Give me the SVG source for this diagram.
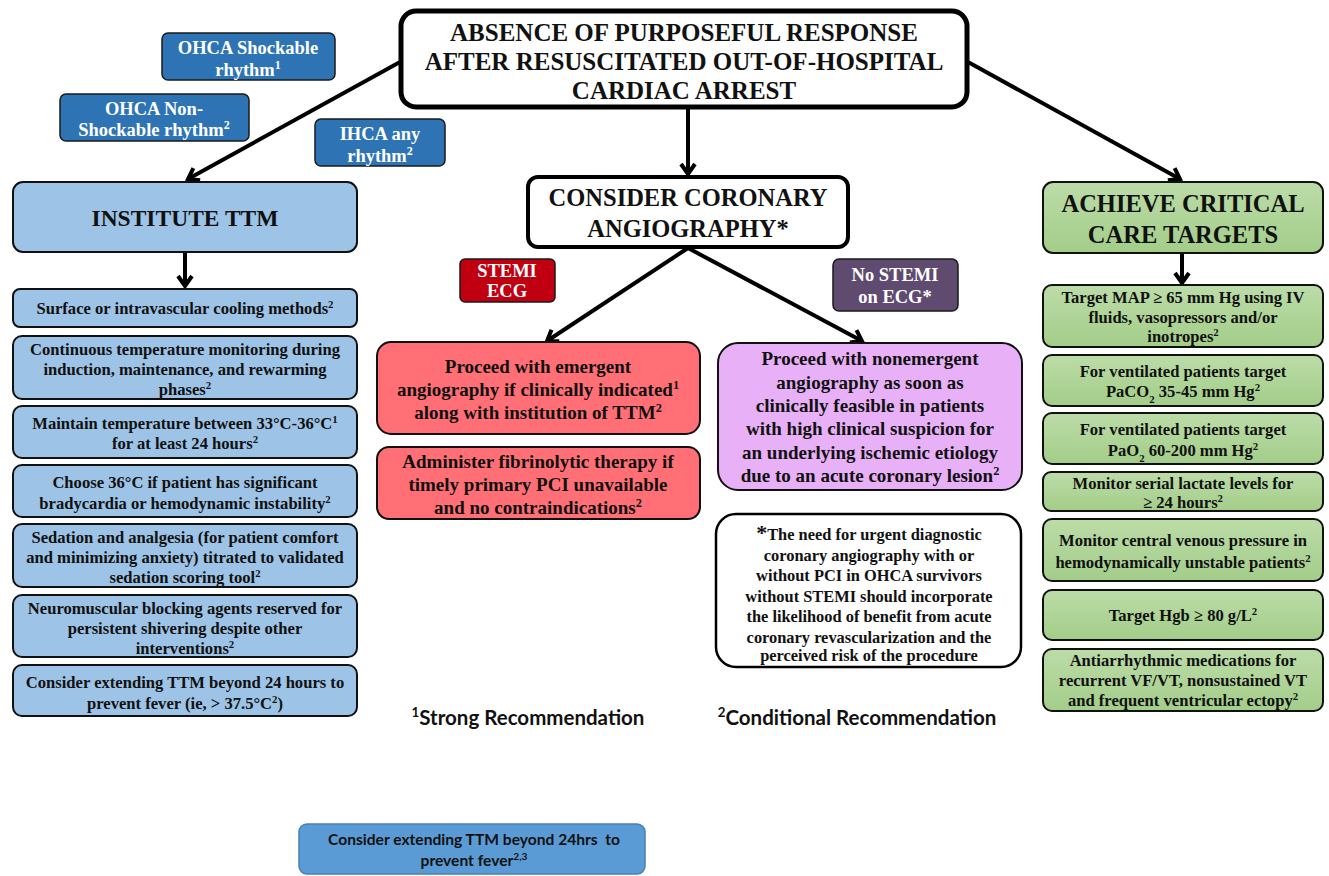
<svg xmlns="http://www.w3.org/2000/svg" width="1329" height="876" viewBox="0 0 1329 876">
<defs>
<style>
text{font-family:"Liberation Serif","Times New Roman",serif;font-weight:bold;text-anchor:middle;fill:#111}
.sup{font-size:65%;baseline-shift:super}
.sub{font-size:65%;baseline-shift:sub}
.lbl{fill:#2e74b5;stroke:#1a1a1a;stroke-width:1.5}
.lt{fill:#fff;font-size:18.5px}
.blue{fill:#9dc3e6;stroke:#111;stroke-width:2}
.green{fill:url(#gg);stroke:#111;stroke-width:2}
.red{fill:#ff6f75;stroke:#111;stroke-width:2}
.bt{font-size:16.6px}
.gt{font-size:16.6px}
.rt{font-size:19px}
.ft{font-size:16.4px}
.conn{stroke:#000;stroke-width:4;fill:none}
.sans{font-family:Lato,"Liberation Sans",sans-serif;white-space:pre}
</style>
<linearGradient id="gg" x1="0" y1="0" x2="0" y2="1">
<stop offset="0" stop-color="#bcdca8"/>
<stop offset="1" stop-color="#a3cd89"/>
</linearGradient>
<marker id="ah" markerUnits="userSpaceOnUse" markerWidth="24" markerHeight="24" refX="12" refY="8" viewBox="0 0 24 16" orient="auto">
<path d="M2,1 L12,8 L2,15" fill="none" stroke="#000" stroke-width="4"/>
</marker>
</defs>

<g id="connectors">
<line class="conn" x1="400" y1="62" x2="188" y2="179" marker-end="url(#ah)"/>
<line class="conn" x1="688" y1="108" x2="688" y2="174" marker-end="url(#ah)"/>
<line class="conn" x1="968" y1="62" x2="1180" y2="179" marker-end="url(#ah)"/>
<line class="conn" x1="185" y1="252" x2="185" y2="286" marker-end="url(#ah)"/>
<line class="conn" x1="1182" y1="253" x2="1182" y2="283" marker-end="url(#ah)"/>
<line class="conn" x1="688" y1="248" x2="547" y2="341" marker-end="url(#ah)"/>
<line class="conn" x1="688" y1="248" x2="862" y2="341" marker-end="url(#ah)"/>
</g>

<g id="title">
<rect x="401" y="11" width="566" height="96" rx="15" fill="#fff" stroke="#000" stroke-width="5"/>
<text x="684" y="41" font-size="25">ABSENCE OF PURPOSEFUL RESPONSE</text>
<text x="684" y="70" font-size="25">AFTER RESUSCITATED OUT-OF-HOSPITAL</text>
<text x="684" y="99" font-size="25">CARDIAC ARREST</text>
</g>

<g id="lbl-ohca-shock">
<rect class="lbl" x="162" y="33" width="173" height="47" rx="6"/>
<text class="lt" x="248" y="54">OHCA Shockable</text>
<text class="lt" x="248" y="76">rhythm<tspan class="sup">1</tspan></text>
</g>
<g id="lbl-ohca-nonshock">
<rect class="lbl" x="60" y="94" width="189" height="47" rx="6"/>
<text class="lt" x="154" y="115">OHCA Non-</text>
<text class="lt" x="154" y="136">Shockable rhythm<tspan class="sup">2</tspan></text>
</g>
<g id="lbl-ihca">
<rect class="lbl" x="315" y="119" width="130" height="47" rx="6"/>
<text class="lt" x="380" y="140">IHCA any</text>
<text class="lt" x="380" y="162">rhythm<tspan class="sup">2</tspan></text>
</g>

<g id="institute-ttm">
<rect class="blue" x="13" y="182" width="344" height="70" rx="10"/>
<text x="185" y="226" font-size="23.5">INSTITUTE TTM</text>
</g>

<g id="ttm1">
<rect class="blue" x="13" y="289" width="344" height="38" rx="7"/>
<text class="bt" x="185" y="314">Surface or intravascular cooling methods<tspan class="sup">2</tspan></text>
</g>
<g id="ttm2">
<rect class="blue" x="13" y="336" width="344" height="63" rx="9"/>
<text class="bt" x="185" y="355">Continuous temperature monitoring during</text>
<text class="bt" x="185" y="375">induction, maintenance, and rewarming</text>
<text class="bt" x="185" y="395">phases<tspan class="sup">2</tspan></text>
</g>
<g id="ttm3">
<rect class="blue" x="13" y="406" width="344" height="52" rx="9"/>
<text class="bt" x="185" y="429">Maintain temperature between 33°C-36°C<tspan class="sup">1</tspan></text>
<text class="bt" x="185" y="449">for at least 24 hours<tspan class="sup">2</tspan></text>
</g>
<g id="ttm4">
<rect class="blue" x="13" y="465" width="344" height="52" rx="9"/>
<text class="bt" x="185" y="488">Choose 36°C if patient has significant</text>
<text class="bt" x="185" y="509">bradycardia or hemodynamic instability<tspan class="sup">2</tspan></text>
</g>
<g id="ttm5">
<rect class="blue" x="13" y="524" width="344" height="63" rx="9"/>
<text class="bt" x="185" y="543">Sedation and analgesia (for patient comfort</text>
<text class="bt" x="185" y="563">and minimizing anxiety) titrated to validated</text>
<text class="bt" x="185" y="583">sedation scoring tool<tspan class="sup">2</tspan></text>
</g>
<g id="ttm6">
<rect class="blue" x="13" y="595" width="344" height="62" rx="9"/>
<text class="bt" x="185" y="614">Neuromuscular blocking agents reserved for</text>
<text class="bt" x="185" y="634">persistent shivering despite other</text>
<text class="bt" x="185" y="654">interventions<tspan class="sup">2</tspan></text>
</g>
<g id="ttm7">
<rect class="blue" x="13" y="665" width="344" height="51" rx="9"/>
<text class="bt" x="185" y="688">Consider extending TTM beyond 24 hours to</text>
<text class="bt" x="185" y="709">prevent fever (ie, &gt; 37.5°C<tspan class="sup">2</tspan>)</text>
</g>

<g id="consider-angio">
<rect x="528" y="177" width="320" height="70" rx="10" fill="#fff" stroke="#000" stroke-width="4"/>
<text x="688" y="206" font-size="24.5">CONSIDER CORONARY</text>
<text x="688" y="237" font-size="24.5">ANGIOGRAPHY*</text>
</g>

<g id="lbl-stemi">
<rect x="460" y="259" width="95" height="43" rx="5" fill="#c00010" stroke="#1a1a1a" stroke-width="1.5"/>
<text class="lt" x="507" y="277" font-size="17">STEMI</text>
<text class="lt" x="507" y="297" font-size="17">ECG</text>
</g>
<g id="lbl-nostemi">
<rect x="833" y="259" width="125" height="52" rx="6" fill="#5f4a70" stroke="#1a1a1a" stroke-width="1.5"/>
<text class="lt" x="895" y="281" font-size="17.5">No STEMI</text>
<text class="lt" x="895" y="303" font-size="17.5">on ECG*</text>
</g>

<g id="emergent">
<rect class="red" x="377" y="342" width="323" height="92" rx="14"/>
<text class="rt" x="538" y="373">Proceed with emergent</text>
<text class="rt" x="538" y="396">angiography if clinically indicated<tspan class="sup">1</tspan></text>
<text class="rt" x="538" y="419">along with institution of TTM<tspan class="sup">2</tspan></text>
</g>
<g id="fibrinolytic">
<rect class="red" x="377" y="447" width="323" height="72" rx="12"/>
<text class="rt" x="538" y="468">Administer fibrinolytic therapy if</text>
<text class="rt" x="538" y="491">timely primary PCI unavailable</text>
<text class="rt" x="538" y="514">and no contraindications<tspan class="sup">2</tspan></text>
</g>

<g id="nonemergent">
<rect x="718" y="343" width="304" height="147" rx="20" fill="#e8b0f7" stroke="#111" stroke-width="2"/>
<text class="rt" x="870" y="365">Proceed with nonemergent</text>
<text class="rt" x="870" y="389">angiography as soon as</text>
<text class="rt" x="870" y="412">clinically feasible in patients</text>
<text class="rt" x="870" y="435">with high clinical suspicion for</text>
<text class="rt" x="870" y="459">an underlying ischemic etiology</text>
<text class="rt" x="870" y="482">due to an acute coronary lesion<tspan class="sup">2</tspan></text>
</g>

<g id="footnote">
<rect x="716" y="514" width="305" height="153" rx="20" fill="#fff" stroke="#000" stroke-width="2.5"/>
<text class="ft" x="869" y="540"><tspan font-size="22">*</tspan>The need for urgent diagnostic</text>
<text class="ft" x="869" y="560.5">coronary angiography with or</text>
<text class="ft" x="869" y="581">without PCI in OHCA survivors</text>
<text class="ft" x="869" y="601.5">without STEMI should incorporate</text>
<text class="ft" x="869" y="622">the likelihood of benefit from acute</text>
<text class="ft" x="869" y="642.5">coronary revascularization and the</text>
<text class="ft" x="869" y="661">perceived risk of the procedure</text>
</g>

<g id="legend">
<text class="sans" x="528" y="725" font-size="20.5"><tspan class="sup">1</tspan>Strong Recommendation</text>
<text class="sans" x="857" y="725" font-size="20.5"><tspan class="sup">2</tspan>Conditional Recommendation</text>
</g>

<g id="critical-care">
<rect class="green" x="1043" y="182" width="280" height="71" rx="10"/>
<text x="1183" y="212" font-size="24.5">ACHIEVE CRITICAL</text>
<text x="1183" y="243" font-size="24.5">CARE TARGETS</text>
</g>

<g id="cc1">
<rect class="green" x="1043" y="285" width="280" height="62" rx="9"/>
<text class="gt" x="1183" y="303">Target MAP ≥ 65 mm Hg using IV</text>
<text class="gt" x="1183" y="323">fluids, vasopressors and/or</text>
<text class="gt" x="1183" y="342">inotropes<tspan class="sup">2</tspan></text>
</g>
<g id="cc2">
<rect class="green" x="1043" y="355" width="280" height="51" rx="9"/>
<text class="gt" x="1183" y="377">For ventilated patients target</text>
<text class="gt" x="1183" y="397">PaCO<tspan class="sub">2</tspan> 35-45 mm Hg<tspan class="sup">2</tspan></text>
</g>
<g id="cc3">
<rect class="green" x="1043" y="413" width="280" height="51" rx="9"/>
<text class="gt" x="1183" y="435">For ventilated patients target</text>
<text class="gt" x="1183" y="456">PaO<tspan class="sub">2</tspan> 60-200 mm Hg<tspan class="sup">2</tspan></text>
</g>
<g id="cc4">
<rect class="green" x="1043" y="472" width="280" height="39" rx="8"/>
<text class="gt" x="1183" y="489">Monitor serial lactate levels for</text>
<text class="gt" x="1183" y="508">≥ 24 hours<tspan class="sup">2</tspan></text>
</g>
<g id="cc5">
<rect class="green" x="1043" y="519" width="280" height="62" rx="9"/>
<text class="gt" x="1183" y="546">Monitor central venous pressure in</text>
<text class="gt" x="1183" y="568">hemodynamically unstable patients<tspan class="sup">2</tspan></text>
</g>
<g id="cc6">
<rect class="green" x="1043" y="590" width="280" height="50" rx="9"/>
<text class="gt" x="1183" y="621">Target Hgb ≥ 80 g/L<tspan class="sup">2</tspan></text>
</g>
<g id="cc7">
<rect class="green" x="1043" y="649" width="280" height="62" rx="9"/>
<text class="gt" x="1183" y="666">Antiarrhythmic medications for</text>
<text class="gt" x="1183" y="686">recurrent VF/VT, nonsustained VT</text>
<text class="gt" x="1183" y="706">and frequent ventricular ectopy<tspan class="sup">2</tspan></text>
</g>

<g id="bottom-box">
<rect x="299" y="824" width="346" height="50" rx="8" fill="#5b9bd5" stroke="#4a7fb5" stroke-width="1.5"/>
<text class="sans" x="474" y="845" font-size="15.6">Consider extending TTM beyond 24hrs  to</text>
<text class="sans" x="474" y="866" font-size="15.6">prevent fever<tspan class="sup">2,3</tspan></text>
</g>
</svg>
